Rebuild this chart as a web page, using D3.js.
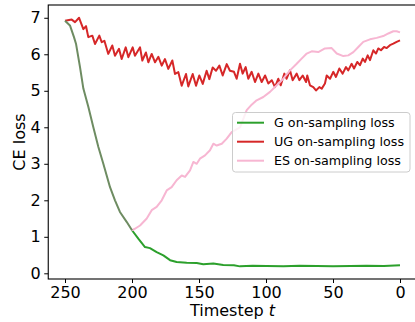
<!DOCTYPE html>
<html>
<head>
<meta charset="utf-8">
<script src="https://cdn.jsdelivr.net/npm/d3@7"></script>
<style>
  html, body { margin: 0; padding: 0; background: #fff; }
  svg { display: block; font-family: "DejaVu Sans", sans-serif; }
</style>
</head>
<body>
<div id="chart"></div>
<script>
// G on-sampling loss (timestep, value)
const gT = [250, 246.3, 243.3, 241.8, 238.8, 236.3, 232.6, 228.9, 225.1, 221.4, 216.4, 212.7, 209, 204, 200,
  195.3, 190.3, 186.6, 181.6, 176.6, 171.6, 166.7, 159.2, 151.7, 146.8, 139.3, 131.9, 124, 119.4, 110,
  99.5, 87, 75, 62, 50, 37, 25, 12, 0];
const gV = [6.92, 6.79, 6.47, 6.29, 5.65, 5.06, 4.56, 4.01, 3.46, 3.0, 2.36, 2.0, 1.68, 1.41, 1.18,
  0.95, 0.72, 0.69, 0.58, 0.49, 0.36, 0.31, 0.29, 0.28, 0.25, 0.27, 0.23, 0.22, 0.19, 0.21,
  0.2, 0.19, 0.21, 0.2, 0.19, 0.2, 0.21, 0.2, 0.22];

// UG on-sampling loss
const ugT = [250, 245, 242.5, 239.5, 236.3, 234.3, 232.6, 229.6, 227.6, 224.4, 222.6, 220.6, 217.7, 214.7,
  212.7, 209.7, 207.7, 204.7, 202.7, 199.5, 197.8, 194, 192.3, 189.6, 187.8, 185.3, 182.8, 180.3, 177.8,
  175.4, 172.9, 169.9, 167.9, 165.4, 162.9, 159.7, 158, 154.7, 152.2, 149.8, 147.2, 144.3, 142.3, 139.8,
  137.3, 134.8, 132.3, 129.3, 126.9, 123.9, 121.9, 119.4, 117.4, 115.2, 113.2, 110.7, 108.2, 105.7, 103.2,
  100.7, 98.3, 95.7, 93.3, 90.8, 89, 86.3, 84.6, 82.1, 80.1, 77.1, 75.1, 72.6, 70.1, 69.2, 67.2, 64.7,
  62.7, 60.2, 58.4, 56, 54.7, 52.2, 49.8, 47.8, 45.3, 42.8, 40.3, 38.6, 36.1, 34.3, 31.9, 29.9, 27.8,
  26.1, 24.1, 22.4, 19.9, 17.9, 16.2, 14.2, 11.9, 9.9, 7.5, 5, 2.5, 0];
const ugV = [6.92, 6.95, 6.88, 7.0, 6.69, 6.77, 6.47, 6.51, 6.28, 6.51, 6.33, 6.37, 6.01, 6.24,
  5.96, 6.15, 5.87, 6.19, 5.92, 6.19, 5.96, 6.19, 5.83, 6.05, 5.78, 6.01, 5.78, 5.93, 5.69,
  5.87, 5.6, 5.83, 5.46, 5.51, 5.14, 5.46, 5.12, 5.46, 5.14, 5.42, 5.19, 5.55, 5.32, 5.64,
  5.55, 5.69, 5.42, 5.73, 5.55, 5.52, 5.33, 5.74, 5.47, 5.65, 5.33, 5.52, 5.24, 5.47, 5.24,
  5.42, 5.2, 5.29, 5.1, 5.33, 5.15, 5.47, 5.33, 5.56, 5.29, 5.47, 5.29, 5.42, 5.24, 5.42, 5.15, 5.1,
  5.01, 5.1, 5.06, 5.2, 5.42, 5.33, 5.52, 5.38, 5.61, 5.47, 5.65, 5.56, 5.74, 5.61, 5.79, 5.7, 5.88,
  5.79, 5.97, 5.84, 6.11, 6.02, 6.16, 6.11, 6.2, 6.17, 6.25, 6.29, 6.34, 6.38];

// ES on-sampling loss (splits from G at t = 200)
const esT = [200, 197.8, 194, 189, 185.3, 181.6, 177.8, 174.1, 170.4, 166.7, 162.9, 160.4, 156.7, 154.2,
  151.7, 149.3, 145.5, 141.8, 139.3, 136.8, 133, 129.3, 125.6, 119.4, 114.4, 110.7, 107, 102, 97, 92,
  87.1, 82.1, 77.1, 73.4, 69.6, 65.9, 61, 56, 51, 47.2, 42.3, 38.6, 34.8, 31.1, 27.4, 22.4, 17.4, 12.5,
  8.7, 5, 2.5, 0];
const esV = [1.18, 1.22, 1.31, 1.5, 1.73, 1.82, 2.0, 2.27, 2.36, 2.55, 2.68, 2.64, 2.82, 3.05,
  3.0, 3.14, 3.23, 3.37, 3.55, 3.5, 3.55, 3.69, 3.87, 4.0, 4.47, 4.62, 4.74, 4.83, 4.97, 5.15,
  5.33, 5.56, 5.74, 5.88, 6.02, 6.08, 6.06, 6.16, 6.17, 6.02, 5.95, 5.97, 6.06, 6.2, 6.34, 6.41, 6.45, 6.5,
  6.57, 6.63, 6.63, 6.6];

const xTicks = [250, 200, 150, 100, 50, 0];
const yTicks = [0, 1, 2, 3, 4, 5, 6, 7];
const seriesNames = ["G on-sampling loss", "UG on-sampling loss", "ES on-sampling loss"];
const seriesColors = ["#2ca02c", "#d62728", "#f7b6d2"];
const sharedColor = "#6e8c62";

const width = 415, height = 322;
const plot = { left: 48.25, right: 416.75, top: 5, bottom: 279 };

const svg = d3.select("#chart").append("svg")
  .attr("width", width)
  .attr("height", height);

const x = d3.scaleLinear().domain([262.5, -12.5]).range([plot.left, plot.right]);
const y = d3.scaleLinear().domain([-0.156, 7.35]).range([plot.bottom, plot.top]);

const line = d3.line()
  .x(d => x(d[0]))
  .y(d => y(d[1]));

const zip = (ts, vs) => ts.map((t, i) => [t, vs[i]]);
const gData = zip(gT, gV);

const lines = svg.append("g");

// G after the split
lines.append("path")
  .datum(gData.filter(d => d[0] <= 200))
  .attr("d", line)
  .attr("fill", "none")
  .attr("stroke", seriesColors[0])
  .attr("stroke-width", 2)
  .attr("stroke-linejoin", "round");

lines.append("path")
  .datum(zip(ugT, ugV))
  .attr("d", line)
  .attr("fill", "none")
  .attr("stroke", seriesColors[1])
  .attr("stroke-width", 2)
  .attr("stroke-linejoin", "round");

lines.append("path")
  .datum(zip(esT, esV))
  .attr("d", line)
  .attr("fill", "none")
  .attr("stroke", seriesColors[2])
  .attr("stroke-width", 2)
  .attr("stroke-linejoin", "round");

// shared trajectory before t = 200
lines.append("path")
  .datum(gData.filter(d => d[0] >= 200))
  .attr("d", line)
  .attr("fill", "none")
  .attr("stroke", sharedColor)
  .attr("stroke-width", 2)
  .attr("stroke-linejoin", "round");

// axes
const xAxis = svg.append("g")
  .attr("transform", `translate(0,${plot.bottom})`)
  .call(d3.axisBottom(x).tickValues(xTicks).tickSize(4).tickPadding(3.6).tickSizeOuter(0));

const yAxis = svg.append("g")
  .attr("transform", `translate(${plot.left},0)`)
  .call(d3.axisLeft(y).tickValues(yTicks).tickSize(4).tickPadding(3.5).tickSizeOuter(0));

[xAxis, yAxis].forEach(a => {
  a.select(".domain").remove();
  a.selectAll("line").attr("stroke", "#000").attr("stroke-width", 1);
  a.selectAll("text")
    .attr("fill", "#000")
    .style("font-family", "DejaVu Sans")
    .style("font-size", "16px");
});

// spines
svg.append("rect")
  .attr("x", plot.left)
  .attr("y", plot.top)
  .attr("width", plot.right - plot.left)
  .attr("height", plot.bottom - plot.top)
  .attr("fill", "none")
  .attr("stroke", "#000")
  .attr("stroke-width", 1.1);

// axis labels
svg.append("text")
  .attr("transform", `translate(25,${(plot.top + plot.bottom) / 2}) rotate(-90)`)
  .attr("text-anchor", "middle")
  .style("font-size", "16px")
  .text("CE loss");

const xl = svg.append("text")
  .attr("x", (plot.left + plot.right) / 2)
  .attr("y", 316)
  .attr("text-anchor", "middle")
  .style("font-size", "16px");
xl.append("tspan").text("Timestep ");
xl.append("tspan").style("font-style", "italic").text("t");

// legend
const legend = svg.append("g");
legend.append("rect")
  .attr("x", 232.5)
  .attr("y", 112.5)
  .attr("width", 177.5)
  .attr("height", 59.5)
  .attr("rx", 3)
  .attr("fill", "#fff")
  .attr("fill-opacity", 0.8)
  .attr("stroke", "#cccccc")
  .attr("stroke-width", 1);

seriesNames.forEach((name, i) => {
  const ry = 122.7 + i * 19;
  legend.append("line")
    .attr("x1", 237)
    .attr("x2", 264)
    .attr("y1", ry)
    .attr("y2", ry)
    .attr("stroke", seriesColors[i])
    .attr("stroke-width", 2);
  legend.append("text")
    .attr("x", 274)
    .attr("y", ry)
    .attr("dy", "0.36em")
    .style("font-size", "12.7px")
    .text(name);
});
</script>
</body>
</html>
